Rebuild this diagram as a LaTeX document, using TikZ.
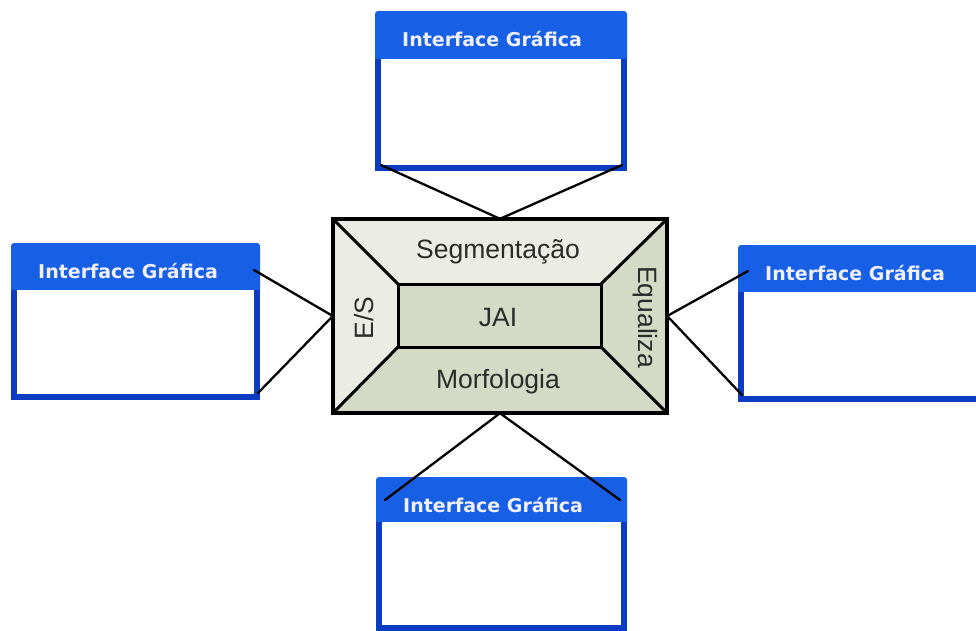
\documentclass[tikz,border=0pt]{standalone}
\usepackage{fontspec}
\setmainfont{Liberation Sans}
\newfontfamily\wintitlefont{DejaVu Sans}
\usetikzlibrary{fit}

\definecolor{titleblue}{HTML}{1760E6}
\definecolor{frameblue}{HTML}{0C3CC2}
\definecolor{panellight}{HTML}{EBEDE4}
\definecolor{paneldark}{HTML}{D4DAC5}
\definecolor{labelgray}{HTML}{2B2B2B}

% #1 name, #2 left, #3 top, #4 right, #5 bottom, #6 bottom of the title bar
\newcommand\guiwindow[6]{%
  \fill[titleblue, rounded corners=3pt] (#2,#3) rectangle (#4,#6+4);
  \fill[frameblue] (#2,#6) rectangle (#4,#5);
  \fill[white] (#2+6,#6) rectangle (#4-6,#5-6);
  \node[fit={(#2,#3) (#4,#5)}, inner sep=0pt] (#1) {};
  \node[wintitle] (#1-title) at (#2+27,#3+35) {Interface Gráfica};
}

\begin{document}
\begin{tikzpicture}[x=1pt,y=-1pt,
  wintitle/.style={anchor=base west, inner sep=0pt, text=white!94!blue,
    font=\wintitlefont\bfseries\fontsize{19}{23}\selectfont},
  boxlabel/.style={inner sep=0pt, text=labelgray,
    font=\fontsize{26.5}{31}\selectfont},
  boxline/.style={line width=3pt, line join=miter},
  link/.style={line width=2.3pt, line cap=round}
]
\fill[white] (0,0) rectangle (976,630);
\useasboundingbox (0,0) rectangle (976,630);
\clip (0,0) rectangle (976,630);

% the four interface windows
\guiwindow{wtop}{375}{11}{627}{171}{59}
\guiwindow{wleft}{11}{243}{260}{400}{290}
\guiwindow{wright}{738}{245}{990}{402}{292}
\guiwindow{wbottom}{376}{477}{627}{631}{522}

% central module box: outer frame and inner panel
\coordinate (A) at (333,219);
\coordinate (B) at (667,219);
\coordinate (C) at (667,413);
\coordinate (D) at (333,413);
\coordinate (a) at (398,284);
\coordinate (b) at (601,284);
\coordinate (c) at (601,347);
\coordinate (d) at (398,347);
\node[fit=(A)(C), inner sep=0pt] (core) {};
\node[fit=(a)(c), inner sep=0pt] (inner) {};

\fill[panellight] (A) -- (B) -- (b) -- (a) -- cycle;
\fill[panellight] (A) -- (a) -- (d) -- (D) -- cycle;
\fill[paneldark] (D) -- (d) -- (c) -- (C) -- cycle;
\fill[paneldark] (B) -- (C) -- (c) -- (b) -- cycle;
\fill[paneldark] (a) rectangle (c);

\draw[boxline] (A) -- (a) (B) -- (b) (C) -- (c) (D) -- (d);
\draw[boxline] (a) rectangle (c);
\draw[line width=3.5pt] (A) rectangle (C);

\node[boxlabel] (seg) at (498,252) {Segmentação};
\node[boxlabel] (jai) at (498,318) {JAI};
\node[boxlabel] (morf) at (498,382) {Morfologia};
\node[boxlabel, rotate=90] (es) at (364,318) {E/S};
\node[boxlabel, rotate=-90] (eq) at (645,317) {Equaliza};

% connectors from the windows to the module box
\coordinate (t1) at (381,165);
\coordinate (t2) at (622,165);
\coordinate (l1) at (254,270);
\coordinate (l2) at (258,393);
\coordinate (r1) at (748,271);
\coordinate (r2) at (742,395);
\coordinate (b1) at (385,500);
\coordinate (b2) at (620,500);

\draw[link] (t1) -- (core.north) -- (t2);
\draw[link] (l1) -- (core.west) -- (l2);
\draw[link] (r1) -- (core.east) -- (r2);
\draw[link] (b1) -- (core.south) -- (b2);
\end{tikzpicture}
\end{document}
